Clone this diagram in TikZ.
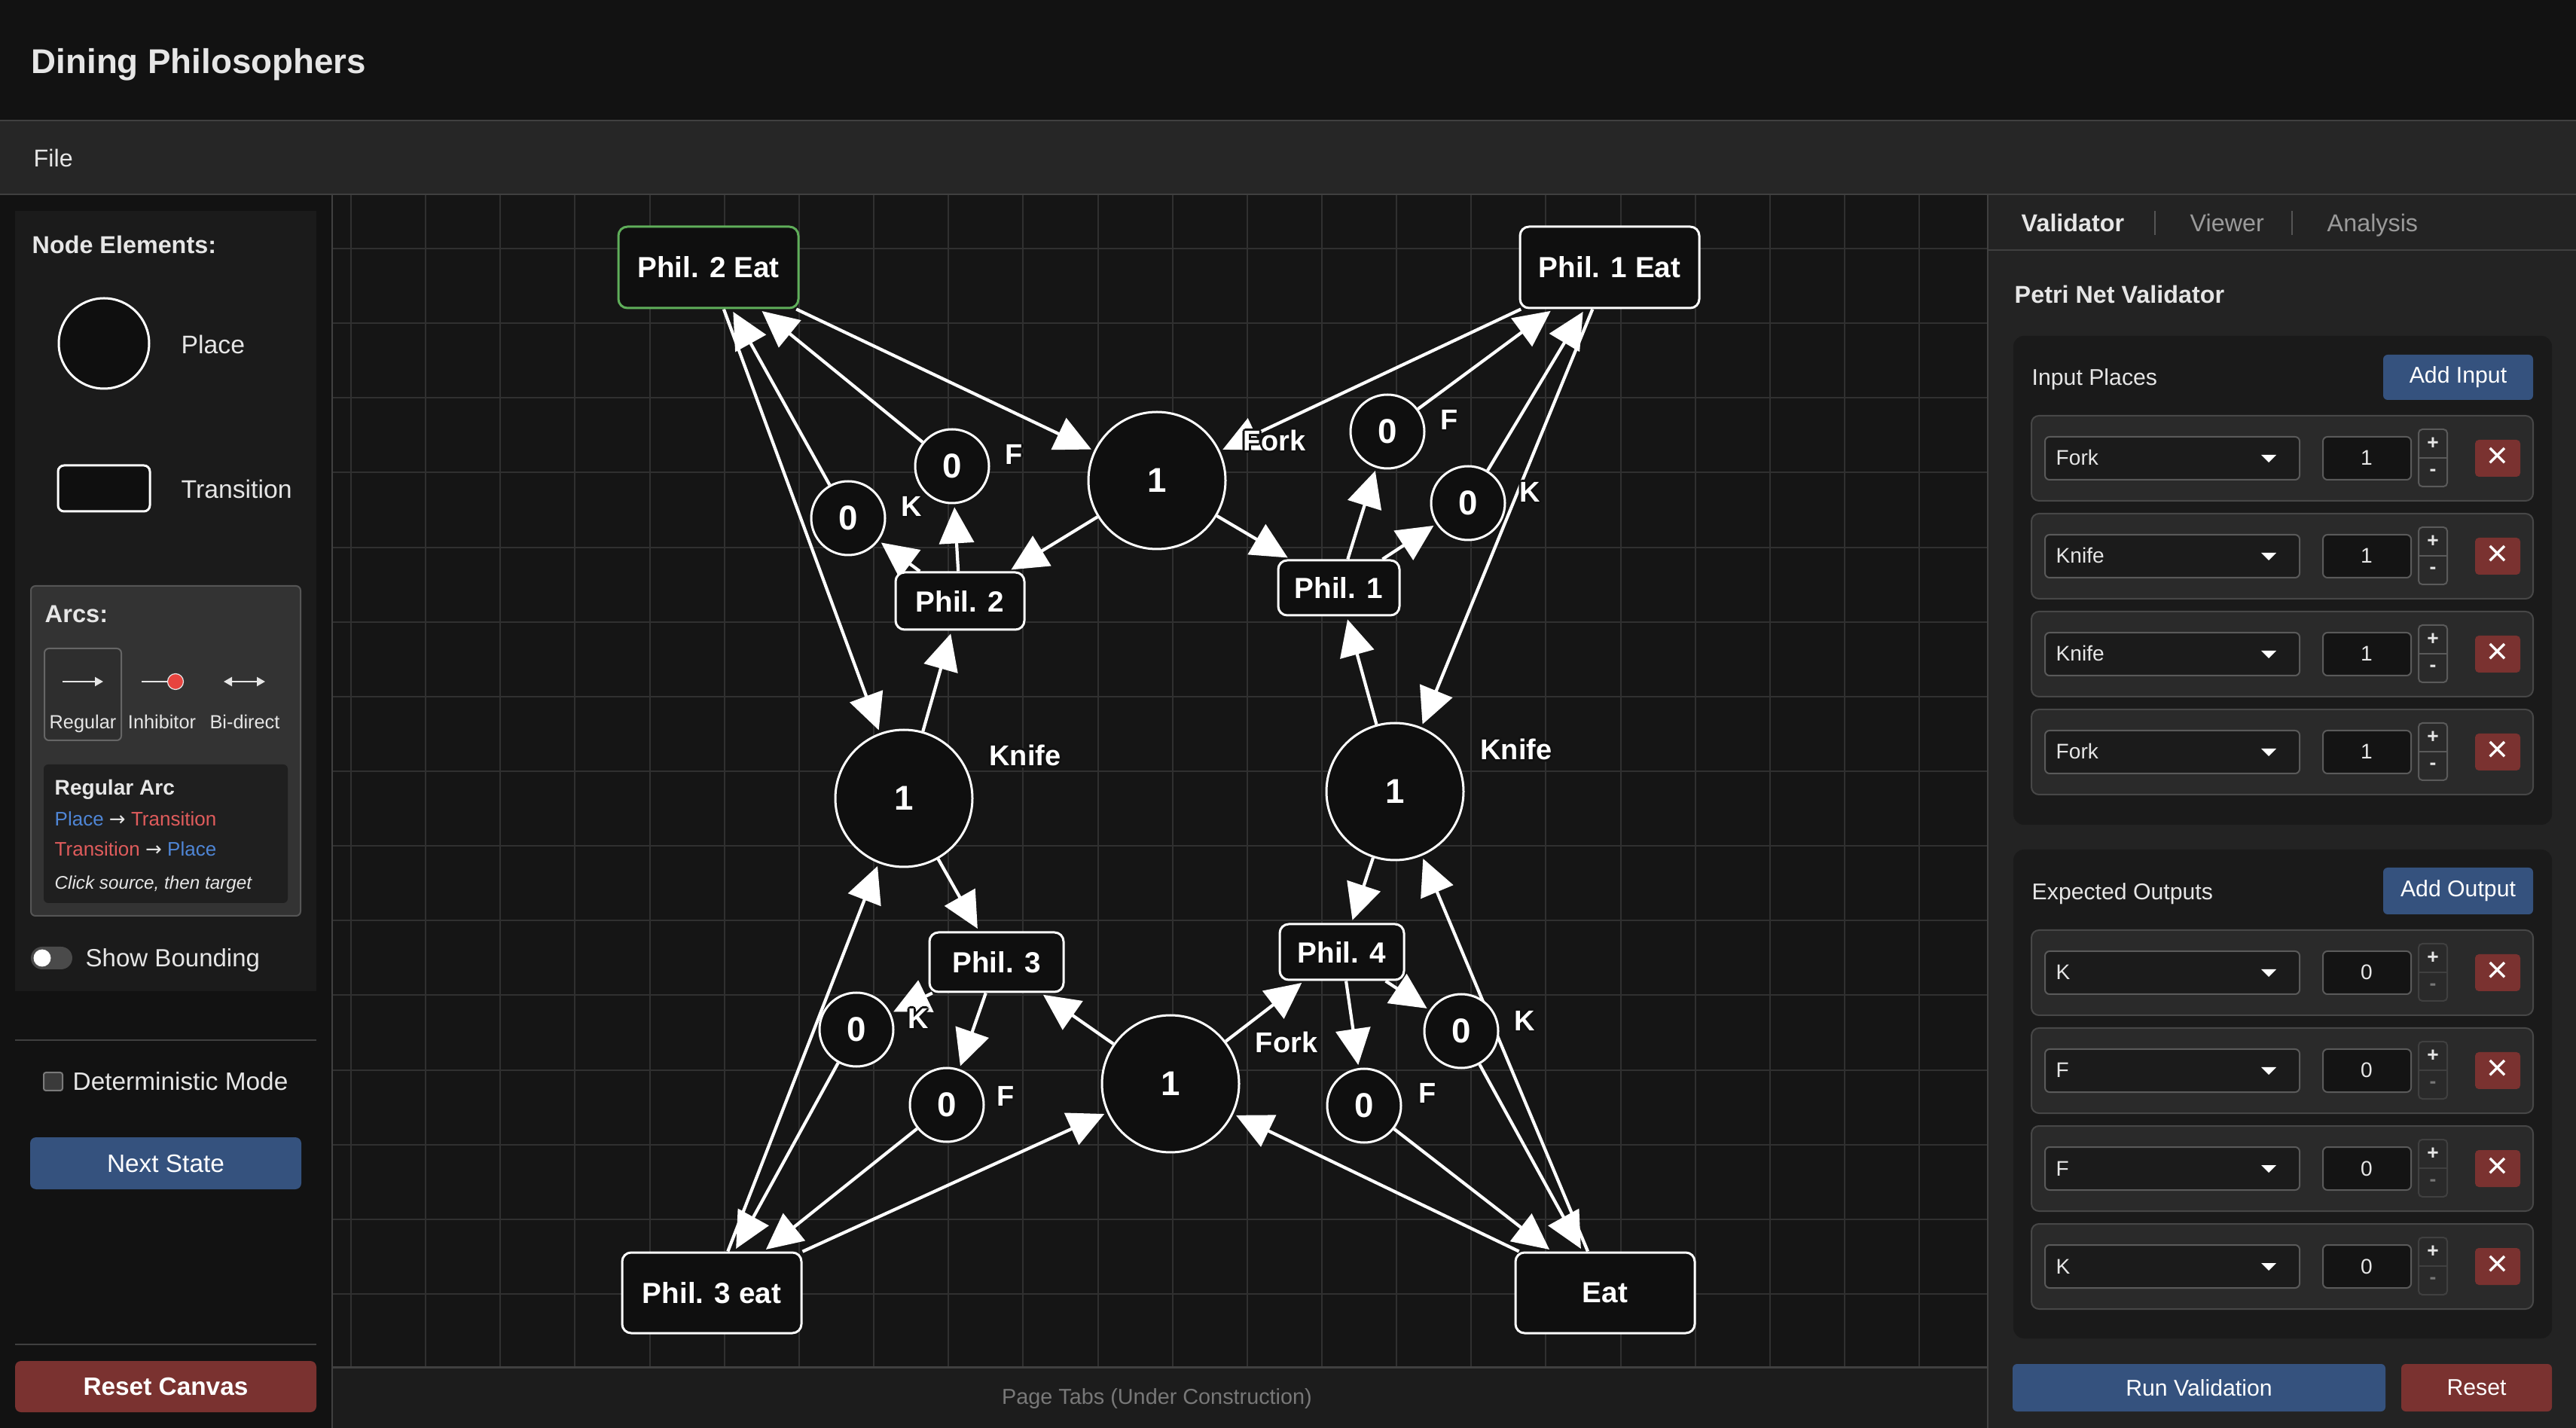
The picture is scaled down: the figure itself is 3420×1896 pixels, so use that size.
\documentclass[tikz,border=0pt]{standalone}
\usepackage{fontspec}
\setmainfont{Liberation Sans}
\newfontfamily\symf{DejaVu Sans}
\usetikzlibrary{arrows.meta}
\pgfdeclarelayer{gridlayer}
\pgfdeclarelayer{arclayer}
\pgfsetlayers{gridlayer,arclayer,main}
\definecolor{hdrbg}{HTML}{121212}
\definecolor{menubg}{HTML}{262626}
\definecolor{linec}{HTML}{404040}
\definecolor{sidebg}{HTML}{121212}
\definecolor{panelbg}{HTML}{1B1B1B}
\definecolor{arcsbg}{HTML}{333333}
\definecolor{arcsbd}{HTML}{555555}
\definecolor{regbg}{HTML}{2E2E2E}
\definecolor{regbd}{HTML}{666666}
\definecolor{infobg}{HTML}{1F1F1F}
\definecolor{canvasbg}{HTML}{151515}
\definecolor{gridc}{HTML}{303030}
\definecolor{footbg}{HTML}{1C1C1C}
\definecolor{rightbg}{HTML}{232323}
\definecolor{secbg}{HTML}{1A1A1A}
\definecolor{rowbg}{HTML}{2A2A2A}
\definecolor{rowbd}{HTML}{474747}
\definecolor{fieldbg}{HTML}{1B1B1B}
\definecolor{fieldbd}{HTML}{5A5A5A}
\definecolor{numbg}{HTML}{141414}
\definecolor{stepbdA}{HTML}{5A5A5A}
\definecolor{stepbdB}{HTML}{404040}
\definecolor{btnblue}{HTML}{35527E}
\definecolor{btnred}{HTML}{7A3230}
\definecolor{txt}{HTML}{E6E6E6}
\definecolor{dimtxt}{HTML}{9A9A9A}
\definecolor{greytxt}{HTML}{777777}
\definecolor{foottxt}{HTML}{787878}
\definecolor{nodefill}{HTML}{0F0F0F}
\definecolor{selgreen}{HTML}{5FAE5A}
\definecolor{linkblue}{HTML}{4F86D6}
\definecolor{linkred}{HTML}{E05C5C}
\definecolor{inhred}{HTML}{E8443F}
\definecolor{togglebg}{HTML}{4A4A4A}
\definecolor{chkbg}{HTML}{3A3A3A}
\definecolor{chkbd}{HTML}{7A7A7A}
\definecolor{shadowc}{HTML}{111111}
\newcommand\fsz[1]{\fontsize{#1}{#1}\selectfont}
\tikzset{
  txtnode/.style={inner sep=0, text=txt},
  place/.style={circle, draw=white, line width=0.3mm, fill=nodefill, inner sep=0, text=white, font=\fsz{13}\bfseries},
  bigplace/.style={place, minimum size=18.2mm},
  smallplace/.style={place, minimum size=9.8mm},
  trans/.style={rectangle, rounded corners=1.2mm, draw=white, line width=0.3mm, fill=nodefill, inner sep=0, text=white, font=\fsz{11}\bfseries},
  lbl/.style={inner sep=0, text=white, font=\fsz{10.8}\bfseries},
  arc/.style={draw=white, line width=0.42mm, -{Triangle[length=4.8mm,width=4.6mm]}, shorten >=0.4mm},
  legarrow/.style={draw=txt, line width=0.22mm},
}
% label with a dark text shadow: name, x, y, text
\newcommand\shlab[4]{%
  \foreach \dx/\dy in {-3/0,3/0,0/-3,0/3,-2/-2,2/2,-2/2,2/-2}
    \node[lbl, text=shadowc] at ({#2+\dx},{#3+\dy}) {#4};
  \node[lbl] (#1) at (#2,#3) {#4};
}
% row: #1 top, #2 label, #3 value, #4 minus colour, #5 name, #6 stepper border
\newcommand\vrow[6]{%
  \draw[rowbd, fill=rowbg, rounded corners=1mm, line width=0.2mm] (2697,#1) rectangle (3363,{#1+113});
  \draw[fieldbd, fill=fieldbg, rounded corners=0.6mm, line width=0.2mm] (2715,{#1+28}) rectangle (3053,{#1+85});
  \node[txtnode, anchor=base west, font=\fsz{8}] (#5lab) at (2729,{#1+66}) {#2};
  \fill[white] (3002,{#1+52}) -- (3022,{#1+52}) -- (3012,{#1+62}) -- cycle;
  \draw[fieldbd, fill=numbg, rounded corners=0.6mm, line width=0.2mm] (3084,{#1+28}) rectangle (3201,{#1+85});
  \node[txtnode, anchor=base, font=\fsz{8}] (#5val) at (3142,{#1+66}) {#3};
  \draw[#6, rounded corners=0.5mm, line width=0.2mm] (3211,{#1+18}) rectangle (3249,{#1+94});
  \draw[#6, line width=0.2mm] (3211,{#1+56}) -- (3249,{#1+56});
  \node[txtnode, font=\fsz{7.5}\bfseries] (#5plus) at (3230,{#1+37}) {+};
  \node[txtnode, font=\fsz{7.5}\bfseries, text=#4] (#5minus) at (3230,{#1+75}) {-};
  \fill[btnred, rounded corners=0.5mm] (3286,{#1+32}) rectangle (3346,{#1+81});
  \node[txtnode, font=\fsz{14}, text=white] (#5x) at (3316,{#1+56}) {×};
}
\begin{document}
\begin{tikzpicture}[x=0.1mm,y=-0.1mm]
\useasboundingbox (0,0) rectangle (3420,1896);
% ---------- frame ----------
\fill[hdrbg] (0,0) rectangle (3420,160);
\fill[menubg] (0,160) rectangle (3420,258);
\draw[linec, line width=0.25mm] (0,160) -- (3420,160);
\draw[linec, line width=0.25mm] (0,258) -- (3420,258);
\node[txtnode, anchor=base west, font=\fsz{13}\bfseries] (title) at (41,98) {Dining Philosophers};
\node[txtnode, anchor=base west, font=\fsz{9.2}] (filemenu) at (44,222) {File};
\fill[sidebg] (0,259) rectangle (441,1896);
\fill[footbg] (441,1815) rectangle (2639,1896);
\fill[rightbg] (2639,259) rectangle (3420,1896);
\begin{pgfonlayer}{gridlayer}
\fill[canvasbg] (441,259) rectangle (2639,1815);
\foreach \i in {0,...,21} \draw[gridc, line width=0.2mm] ({466+99.15*\i},259) -- ({466+99.15*\i},1815);
\foreach \j in {0,...,14} \draw[gridc, line width=0.2mm] (441,{330+99.15*\j}) -- (2639,{330+99.15*\j});
\end{pgfonlayer}
\draw[linec, line width=0.25mm] (441,259) -- (441,1896);
\draw[linec, line width=0.3mm] (441,1815) -- (2639,1815);
\draw[linec, line width=0.25mm] (2639,259) -- (2639,1896);
\node[txtnode, font=\fsz{8.2}, text=foottxt] (foot) at (1536,1857) {Page Tabs (Under Construction)};
% ---------- left sidebar ----------
\fill[panelbg] (20,280) rectangle (420,1316);
\node[txtnode, anchor=base west, font=\fsz{9.2}\bfseries] (hNode) at (42,337) {Node Elements:};
\node[circle, draw=white, line width=0.3mm, fill=nodefill, minimum size=12mm, inner sep=0] (legPlace) at (138,456) {};
\node[txtnode, anchor=base west, font=\fsz{9.6}] (legPlaceT) at (240,470) {Place};
\node[rectangle, rounded corners=0.8mm, draw=white, line width=0.3mm, fill=nodefill, minimum width=12.2mm, minimum height=6.1mm, inner sep=0] (legTrans) at (138,648.5) {};
\node[txtnode, anchor=base west, font=\fsz{9.6}] (legTransT) at (240,662) {Transition};
\draw[arcsbd, fill=arcsbg, rounded corners=0.6mm, line width=0.2mm] (41,778) rectangle (399,1216);
\node[txtnode, anchor=base west, font=\fsz{9.3}\bfseries] (hArcs) at (59,827) {Arcs:};
\draw[regbd, fill=regbg, rounded corners=0.6mm, line width=0.2mm] (59,861) rectangle (161,983);
\coordinate (ra1) at (83,905); \coordinate (ra2) at (137,905);
\draw[legarrow, -{Triangle[length=1.1mm,width=1.2mm]}] (ra1) -- (ra2);
\coordinate (ia1) at (188,905); \coordinate (ia2) at (224,905);
\draw[legarrow] (ia1) -- (ia2);
\node[circle, fill=inhred, draw=txt, line width=0.12mm, minimum size=2.1mm, inner sep=0] (inhdot) at (233,905) {};
\coordinate (ba1) at (297,905); \coordinate (ba2) at (352,905);
\draw[legarrow, {Triangle[length=1.1mm,width=1.2mm]}-{Triangle[length=1.1mm,width=1.2mm]}] (ba1) -- (ba2);
\node[txtnode, anchor=base, font=\fsz{7.2}] (tReg) at (110,968) {Regular};
\node[txtnode, anchor=base, font=\fsz{7.2}] (tInh) at (215,968) {Inhibitor};
\node[txtnode, anchor=base, font=\fsz{7.2}] (tBi) at (325,968) {Bi-direct};
\fill[infobg, rounded corners=0.6mm] (58,1015) rectangle (382,1199);
\node[txtnode, anchor=base west, font=\fsz{8}\bfseries] (tRA) at (72,1056) {Regular Arc};
\node[txtnode, anchor=base west, font=\fsz{7.4}] (tPT) at (72,1097) {\textcolor{linkblue}{Place} {\symf →} \textcolor{linkred}{Transition}};
\node[txtnode, anchor=base west, font=\fsz{7.4}] (tTP) at (72,1137) {\textcolor{linkred}{Transition} {\symf →} \textcolor{linkblue}{Place}};
\node[txtnode, anchor=base west, font=\fsz{6.9}\itshape] (tClick) at (72,1181) {Click source, then target};
\fill[togglebg, rounded corners=1.5mm] (41,1257) rectangle (96,1287);
\fill[white] (56,1272) circle[radius=1.15mm];
\node[txtnode, anchor=base west, font=\fsz{9.4}] (tShow) at (113,1284) {Show Bounding};
\draw[linec, line width=0.25mm] (20,1381) -- (420,1381);
\draw[chkbd, fill=chkbg, rounded corners=0.3mm, line width=0.2mm] (58,1424) rectangle (83,1448);
\node[txtnode, anchor=base west, font=\fsz{9.5}] (tDet) at (96,1448) {Deterministic Mode};
\fill[btnblue, rounded corners=0.8mm] (40,1510) rectangle (400,1579);
\node[txtnode, text=white, font=\fsz{9.5}] (bNext) at (220,1545) {Next State};
\draw[linec, line width=0.25mm] (20,1785) -- (420,1785);
\fill[btnred, rounded corners=0.8mm] (20,1807) rectangle (420,1875);
\node[txtnode, text=white, font=\fsz{9.5}\bfseries] (bReset) at (220,1841) {Reset Canvas};
% ---------- right panel ----------
\node[txtnode, anchor=base west, font=\fsz{9.2}\bfseries] (tabV) at (2683,308) {Validator};
\node[txtnode, anchor=base west, font=\fsz{9.2}, text=dimtxt] (tabW) at (2907,308) {Viewer};
\node[txtnode, anchor=base west, font=\fsz{9.2}, text=dimtxt] (tabA) at (3089,308) {Analysis};
\draw[arcsbd, line width=0.2mm] (2861,280) -- (2861,312);
\draw[arcsbd, line width=0.2mm] (3043,280) -- (3043,312);
\draw[linec, line width=0.25mm] (2639,332) -- (3420,332);
\node[txtnode, anchor=base west, font=\fsz{9.2}\bfseries] (tPNV) at (2674,403) {Petri Net Validator};
\fill[secbg, rounded corners=1.4mm] (2673,446) rectangle (3388,1095);
\node[txtnode, anchor=base west, font=\fsz{8.6}] (tIn) at (2697,512) {Input Places};
\fill[btnblue, rounded corners=0.6mm] (3164,471) rectangle (3363,531);
\node[txtnode, text=white, font=\fsz{8.6}] (bAddIn) at (3263.5,501) {Add Input};
\vrow{552}{Fork}{1}{txt}{ia}{stepbdA}
\vrow{682}{Knife}{1}{txt}{ib}{stepbdA}
\vrow{812}{Knife}{1}{txt}{ic}{stepbdA}
\vrow{942}{Fork}{1}{txt}{id}{stepbdA}
\fill[secbg, rounded corners=1.4mm] (2673,1128) rectangle (3388,1777);
\node[txtnode, anchor=base west, font=\fsz{8.6}] (tOut) at (2697,1195) {Expected Outputs};
\fill[btnblue, rounded corners=0.6mm] (3164,1152) rectangle (3363,1214);
\node[txtnode, text=white, font=\fsz{8.6}] (bAddOut) at (3263.5,1183) {Add Output};
\vrow{1235}{K}{0}{greytxt}{oa}{stepbdB}
\vrow{1365}{F}{0}{greytxt}{ob}{stepbdB}
\vrow{1495}{F}{0}{greytxt}{oc}{stepbdB}
\vrow{1625}{K}{0}{greytxt}{od}{stepbdB}
\fill[btnblue, rounded corners=0.6mm] (2672,1811) rectangle (3167,1874);
\node[txtnode, text=white, font=\fsz{8.6}] (bRun) at (2919.5,1842.5) {Run Validation};
\fill[btnred, rounded corners=0.6mm] (3188,1811) rectangle (3388,1874);
\node[txtnode, text=white, font=\fsz{8.6}] (bRes) at (3288,1842.5) {Reset};
% ---------- Petri net ----------
\node[trans, draw=selgreen, minimum width=23.9mm, minimum height=10.8mm] (P2Eat) at (940.5,355) {Phil. 2 Eat};
\node[trans, minimum width=23.8mm, minimum height=10.8mm] (P1Eat) at (2137,355) {Phil. 1 Eat};
\node[trans, minimum width=23.8mm, minimum height=10.7mm] (P3eat) at (945,1716.5) {Phil. 3 eat};
\node[trans, minimum width=23.8mm, minimum height=10.7mm] (Eat) at (2131,1716.5) {Eat};
\node[trans, minimum width=17.1mm, minimum height=7.6mm] (Phil2) at (1274.5,798) {Phil. 2};
\node[trans, minimum width=16.1mm, minimum height=7.3mm] (Phil1) at (1777.5,780.5) {Phil. 1};
\node[trans, minimum width=17.8mm, minimum height=7.9mm] (Phil3) at (1323,1277.5) {Phil. 3};
\node[trans, minimum width=16.5mm, minimum height=7.4mm] (Phil4) at (1781.5,1264) {Phil. 4};
\node[bigplace] (ForkT) at (1536,638) {1};
\node[bigplace] (KnifeL) at (1200,1060) {1};
\node[bigplace] (KnifeR) at (1852,1051) {1};
\node[bigplace] (ForkB) at (1554,1439) {1};
\node[smallplace] (FTL) at (1264,619) {0};
\node[smallplace] (KTL) at (1126,688) {0};
\node[smallplace] (FTR) at (1842,573) {0};
\node[smallplace] (KTR) at (1949,668) {0};
\node[smallplace] (KBL) at (1137,1367) {0};
\node[smallplace] (FBL) at (1257,1467) {0};
\node[smallplace] (FBR) at (1811,1468) {0};
\node[smallplace] (KBR) at (1940,1369) {0};
\begin{pgfonlayer}{arclayer}
\draw[arc] (P2Eat) -- (ForkT);
\draw[arc] (KTL) -- (P2Eat);
\draw[arc] (FTL) -- (P2Eat);
\draw[arc] (P2Eat) -- (KnifeL);
\draw[arc] (ForkT) -- (Phil2);
\draw[arc] (KnifeL) -- (Phil2);
\draw[arc] (Phil2) -- (FTL);
\draw[arc] (Phil2) -- (KTL);
\draw[arc] (P1Eat) -- (ForkT);
\draw[arc] (ForkT) -- (Phil1);
\draw[arc] (Phil1) -- (FTR);
\draw[arc] (Phil1) -- (KTR);
\draw[arc] (FTR) -- (P1Eat);
\draw[arc] (KTR) -- (P1Eat);
\draw[arc] (P1Eat) -- (KnifeR);
\draw[arc] (KnifeR) -- (Phil1);
\draw[arc] (KnifeL) -- (Phil3);
\draw[arc] (P3eat) -- (KnifeL);
\draw[arc] (KBL) -- (P3eat);
\draw[arc] (FBL) -- (P3eat);
\draw[arc] (P3eat) -- (ForkB);
\draw[arc] (Phil3) -- (KBL);
\draw[arc] (Phil3) -- (FBL);
\draw[arc] (ForkB) -- (Phil3);
\draw[arc] (KnifeR) -- (Phil4);
\draw[arc] (Eat) -- (KnifeR);
\draw[arc] (ForkB) -- (Phil4);
\draw[arc] (Phil4) -- (FBR);
\draw[arc] (Phil4) -- (KBR);
\draw[arc] (FBR) -- (Eat);
\draw[arc] (KBR) -- (Eat);
\draw[arc] (Eat) -- (ForkB);
\end{pgfonlayer}
\shlab{lFTL}{1346}{603}{F}
\shlab{lKTL}{1210}{672}{K}
\shlab{lKnifeL}{1361}{1003}{Knife}
\shlab{lForkT}{1692}{585}{Fork}
\shlab{lFTR}{1924}{557}{F}
\shlab{lKTR}{2031}{653}{K}
\shlab{lKnifeR}{2013}{995}{Knife}
\shlab{lKBL}{1219}{1352}{K}
\shlab{lFBL}{1335}{1455}{F}
\shlab{lForkB}{1708}{1384}{Fork}
\shlab{lFBR}{1895}{1451}{F}
\shlab{lKBR}{2024}{1355}{K}
\end{tikzpicture}
\end{document}
